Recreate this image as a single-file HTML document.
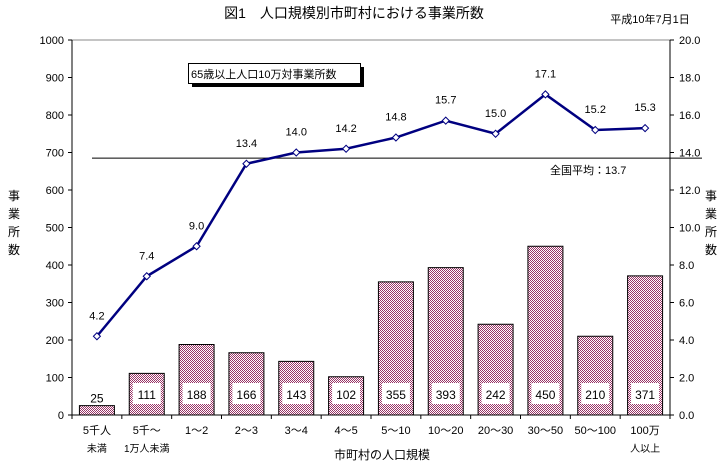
<!DOCTYPE html>
<html><head><meta charset="utf-8"><style>
body{margin:0;background:#fff;}
svg text{font-family:"Liberation Sans","Noto Sans CJK JP",sans-serif;fill:#000;}
</style></head><body>
<svg id="c" width="725" height="465" xmlns="http://www.w3.org/2000/svg">
<defs>
<pattern id="chk" width="2" height="2" patternUnits="userSpaceOnUse">
<rect width="2" height="2" fill="#fff"/><rect width="1" height="1" fill="#993366"/><rect x="1" y="1" width="1" height="1" fill="#993366"/>
</pattern>
</defs>
<text x="354" y="18" font-size="14" text-anchor="middle">図1　人口規模別市町村における事業所数</text>
<text x="650" y="23" font-size="11" text-anchor="middle">平成10年7月1日</text>
<g id="plot"></g>
</svg>
<script>
const categories1=["5千人","5千～","1～2","2～3","3～4","4～5","5～10","10～20","20～30","30～50","50～100","100万"];
const categories2=["未満","1万人未満","","","","","","","","","","人以上"];
const barValues=[25,111,188,166,143,102,355,393,242,450,210,371];
const rateValues=[4.2,7.4,9.0,13.4,14.0,14.2,14.8,15.7,15.0,17.1,15.2,15.3];
const leftTicks=[0,100,200,300,400,500,600,700,800,900,1000];
const rightTicks=["0.0","2.0","4.0","6.0","8.0","10.0","12.0","14.0","16.0","18.0","20.0"];
const nationalAvg=13.7;

const X0=72,X1=670,Y0=415,Y1=40;
const ns="http://www.w3.org/2000/svg";
const g=document.getElementById('plot');
const n=categories1.length, cw=(X1-X0)/n;
const xc=i=>X0+cw*(i+0.5);
const yL=v=>Y0-(v/1000)*(Y0-Y1);
const yR=v=>Y0-(v/20)*(Y0-Y1);
function mk(t,a,txt){const e=document.createElementNS(ns,t);for(const k in a)e.setAttribute(k,a[k]);if(txt!==undefined)e.textContent=txt;g.appendChild(e);return e;}

// axes
let e=mk('line',{x1:X0,y1:Y1,x2:X1,y2:Y1,stroke:'#888','stroke-width':1});

e=mk('line',{x1:X0,y1:Y1,x2:X0,y2:Y0,stroke:'#000','stroke-width':1});

e=mk('line',{x1:X1,y1:Y1,x2:X1,y2:Y0,stroke:'#000','stroke-width':1});

e=mk('line',{x1:X0,y1:Y0,x2:X1,y2:Y0,stroke:'#000','stroke-width':1});

leftTicks.forEach(v=>{
 const y=yL(v);
 mk('line',{x1:X0-4,y1:y,x2:X0,y2:y,stroke:'#000'});
 const t=mk('text',{x:X0-8,y:y+4,'font-size':11,'text-anchor':'end'},v);
 
});
rightTicks.forEach((v,i)=>{
 const y=yR(i*2);
 mk('line',{x1:X1,y1:y,x2:X1+4,y2:y,stroke:'#000'});
 const t=mk('text',{x:X1+9,y:y+4,'font-size':11},v);
 
});
for(let i=0;i<=n;i++){mk('line',{x1:X0+cw*i,y1:Y0,x2:X0+cw*i,y2:Y0+4,stroke:'#000'});}
// bars
barValues.forEach((v,i)=>{
 const bw=35,x=xc(i)-bw/2,y=yL(v);
 const r=mk('rect',{x:x,y:y,width:bw,height:Y0-y,fill:'url(#chk)',stroke:'#000','stroke-width':1});
 
 const ly=i===0?yL(v)-4:395;
 if(i>0){const b=mk('rect',{x:xc(i)-14,y:ly-12,width:28,height:21,fill:'#fff'});}
 const t=mk('text',{x:xc(i),y:i===0?ly+1:ly+4,'font-size':12,'text-anchor':'middle'},v);
 
});
// average line
e=mk('line',{x1:92,y1:yR(nationalAvg),x2:702,y2:yR(nationalAvg),stroke:'#000','stroke-width':1});

e=mk('text',{x:550,y:yR(nationalAvg)+16,'font-size':11},'全国平均：'+nationalAvg);

// rate line
const pts=rateValues.map((v,i)=>xc(i)+','+yR(v)).join(' ');
e=mk('polyline',{points:pts,fill:'none',stroke:'#000080','stroke-width':2.5});

rateValues.forEach((v,i)=>{
 const x=xc(i),y=yR(v);
 const d=mk('polygon',{points:`${x},${y-3.5} ${x+3.5},${y} ${x},${y+3.5} ${x-3.5},${y}`,fill:'#fff',stroke:'#000080','stroke-width':1});
 
 const t=mk('text',{x:x,y:y-17,'font-size':11,'text-anchor':'middle'},v.toFixed(1));
 
});
// x labels
categories1.forEach((c,i)=>{
 let t=mk('text',{x:xc(i),y:434,'font-size':11,'text-anchor':'middle'},c);
 
 if(categories2[i]){t=mk('text',{x:xc(i),y:452,'font-size':10,'text-anchor':'middle'},categories2[i]);
 }
});
e=mk('text',{x:382,y:459,'font-size':12,'text-anchor':'middle'},'市町村の人口規模');

['事','業','所','数'].forEach((c,i)=>{
 let t=mk('text',{x:14,y:200+i*18,'font-size':12,'text-anchor':'middle'},c);
 
 t=mk('text',{x:711,y:200+i*18,'font-size':12,'text-anchor':'middle'},c);
 
});
// legend
e=mk('rect',{x:192,y:67,width:172,height:20,fill:'#000'});

e=mk('rect',{x:188.5,y:63.5,width:172,height:20,fill:'#fff',stroke:'#000','stroke-width':1});

e=mk('text',{x:191,y:78,'font-size':11},'65歳以上人口10万対事業所数');

</script>
</body></html>
